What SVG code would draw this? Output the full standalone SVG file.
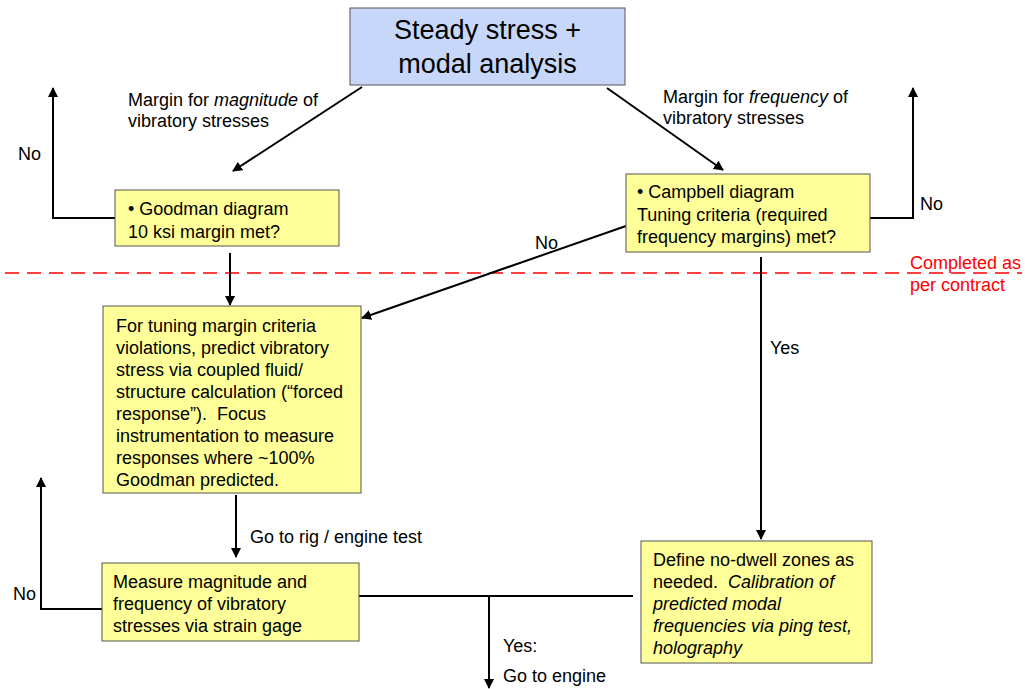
<svg xmlns="http://www.w3.org/2000/svg" width="1025" height="689" viewBox="0 0 1025 689">
<defs>
<marker id="ah" viewBox="0 0 10 10" refX="9" refY="5" markerWidth="5" markerHeight="5" orient="auto" markerUnits="strokeWidth">
<path d="M0,0 L10,5 L0,10 Z" fill="#000"/>
</marker>
</defs>
<style>
text{font-family:"Liberation Sans",Arial,sans-serif;font-size:18px;fill:#000}
.title{font-size:27px}
.box{fill:#FFFF99;stroke:#555;stroke-width:1}
.blue{fill:#C7D7F9;stroke:#555;stroke-width:1}
.c{fill:none;stroke:#000;stroke-width:2}
.a{fill:none;stroke:#000;stroke-width:2;marker-end:url(#ah)}
.red{fill:#FF0000}
.i{font-style:italic}
</style>
<rect width="1025" height="689" fill="#fff"/>
<g id="contract-line">
<line x1="5" y1="273" x2="1022" y2="273" stroke="#FF0000" stroke-width="1.5" stroke-dasharray="14,8"/>
<text class="red" x="910" y="269">Completed as</text>
<text class="red" x="910" y="291">per contract</text>
</g>
<g id="connectors">
<line class="a" x1="362" y1="87" x2="233" y2="171"/>
<line class="a" x1="607" y1="88" x2="723" y2="170"/>
<polyline class="a" points="115,218 53,218 53,88"/>
<polyline class="a" points="870,218 913,218 913,88"/>
<line class="a" x1="230" y1="253" x2="230" y2="305"/>
<line class="a" x1="626" y1="226" x2="362" y2="318"/>
<line class="a" x1="761" y1="257" x2="761" y2="539"/>
<line class="a" x1="236" y1="495" x2="236" y2="557"/>
<polyline class="a" points="102,609 41,609 41,478"/>
<line class="c" x1="359" y1="596" x2="633" y2="596"/>
<line class="a" x1="489" y1="596" x2="489" y2="688"/>
<text x="128" y="106">Margin for <tspan class="i">magnitude</tspan> of</text>
<text x="128" y="127">vibratory stresses</text>
<text x="663" y="103">Margin for <tspan class="i">frequency</tspan> of</text>
<text x="663" y="124">vibratory stresses</text>
<text x="18" y="160">No</text>
<text x="920" y="210">No</text>
<text x="535" y="249">No</text>
<text x="770" y="354">Yes</text>
<text x="250" y="543">Go to rig / engine test</text>
<text x="13" y="600">No</text>
<text x="503" y="652">Yes:</text>
<text x="503" y="682">Go to engine</text>
</g>
<g id="steady">
<rect class="blue" x="350" y="8" width="275" height="77"/>
<text class="title" x="487.5" y="39" text-anchor="middle">Steady stress +</text>
<text class="title" x="487.5" y="73" text-anchor="middle">modal analysis</text>
</g>
<g id="goodman">
<rect class="box" x="115" y="190" width="224" height="56"/>
<text x="128" y="215">• Goodman diagram</text>
<text x="128" y="238">10 ksi margin met?</text>
</g>
<g id="campbell">
<rect class="box" x="626" y="174" width="244" height="78"/>
<text x="637" y="198">• Campbell diagram</text>
<text x="637" y="221">Tuning criteria (required</text>
<text x="637" y="243">frequency margins) met?</text>
</g>
<g id="forced">
<rect class="box" x="103" y="306" width="258" height="187"/>
<text x="116" y="332">For tuning margin criteria</text>
<text x="116" y="354">violations, predict vibratory</text>
<text x="116" y="376">stress via coupled fluid/</text>
<text x="116" y="398">structure calculation (“forced</text>
<text x="116" y="420">response”).&#160; Focus</text>
<text x="116" y="442">instrumentation to measure</text>
<text x="116" y="464">responses where ~100%</text>
<text x="116" y="486">Goodman predicted.</text>
</g>
<g id="measure">
<rect class="box" x="102" y="563" width="257" height="78"/>
<text x="113" y="588">Measure magnitude and</text>
<text x="113" y="610">frequency of vibratory</text>
<text x="113" y="632">stresses via strain gage</text>
</g>
<g id="nodwell">
<rect class="box" x="641" y="541" width="231" height="122"/>
<text x="653" y="566">Define no-dwell zones as</text>
<text x="653" y="588">needed.&#160; <tspan class="i">Calibration of</tspan></text>
<text x="653" y="610" class="i">predicted modal</text>
<text x="653" y="632" class="i">frequencies via ping test,</text>
<text x="653" y="654" class="i">holography</text>
</g>
</svg>
